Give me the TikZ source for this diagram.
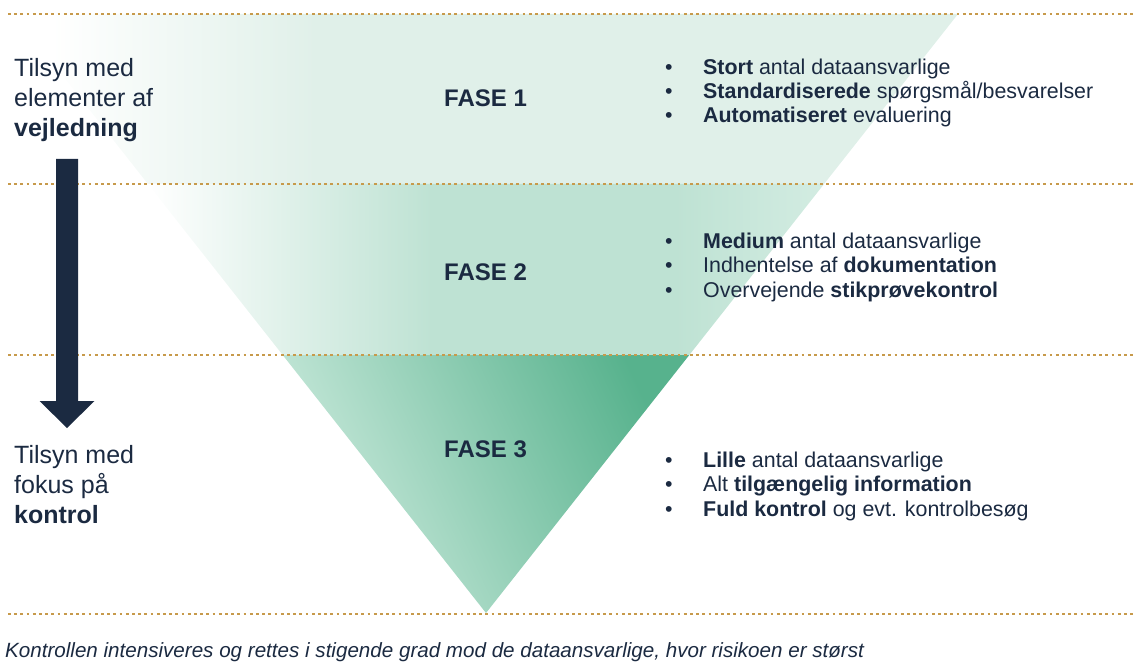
\documentclass[tikz,border=0pt]{standalone}
\usepackage{fontspec}
\setmainfont{Liberation Sans}
\usetikzlibrary{calc}
\definecolor{navy}{HTML}{1B2A41}
\definecolor{gold}{HTML}{C79A4B}
\definecolor{paleone}{HTML}{E0F0E9}
\definecolor{paletwo}{HTML}{BEE2D3}
\definecolor{paletwoend}{HTML}{D3ECE2}
\definecolor{deepthree}{HTML}{57B28D}
\definecolor{midthree}{HTML}{8FCEB4}
\definecolor{lightthree}{HTML}{CDEBDE}
% bbox of a band is mapped on 25bp..75bp
\pgfdeclarehorizontalshading{faseone}{100bp}{color(0bp)=(white); color(27bp)=(white);
  color(41bp)=(paleone); color(100bp)=(paleone)}
\pgfdeclarehorizontalshading{fasetwo}{100bp}{color(0bp)=(white); color(25bp)=(white);
  color(46bp)=(paletwo); color(64bp)=(paletwo); color(75bp)=(paletwoend); color(100bp)=(paletwoend)}
\tikzset{
  sep/.style={gold, line width=2.7pt, dash pattern=on 2.7pt off 3.5pt},
  lbl/.style={anchor=base west, inner sep=0pt, align=left, text=navy,
    font=\fontsize{25}{30}\selectfont},
  fase/.style={anchor=base west, inner sep=0pt, text=navy,
    font=\fontsize{24}{28}\selectfont\bfseries},
  bullets/.style={anchor=base west, inner sep=0pt, align=left, text=navy,
    font=\fontsize{21.4}{24.4}\selectfont},
}
\newcommand{\pt}[1]{\makebox[38pt][l]{\textbullet}#1}
\begin{document}
\begin{tikzpicture}[x=1pt,y=-1pt]
  \useasboundingbox (0,0) rectangle (1133,666);
  % funnel
  \coordinate (tl) at (14,14);
  \coordinate (tr) at (958,14);
  \coordinate (apex) at (486,613);
  \coordinate (l1) at ($(tl)!0.2838!(apex)$);
  \coordinate (r1) at ($(tr)!0.2838!(apex)$);
  \coordinate (l2) at ($(tl)!0.5693!(apex)$);
  \coordinate (r2) at ($(tr)!0.5693!(apex)$);
  \shade[shading=faseone] (tl) -- (tr) -- (r1) -- (l1) -- cycle;
  \shade[shading=fasetwo] (l1) -- (r1) -- (r2) -- (l2) -- cycle;
  \shade[top color=deepthree, middle color=midthree, bottom color=lightthree,
    shading angle=-65] (l2) -- (r2) -- (apex) -- cycle;
  % separators
  \foreach \y in {14,184,355,614}
    \draw[sep] (8,\y) -- (1133,\y);
  % arrow
  \coordinate (arrtop) at (67,159);
  \coordinate (arrtip) at (67,428);
  \fill[navy] ($(arrtop)+(-11,0)$) -- ($(arrtop)+(11,0)$) -- ($(arrtip)+(11,-27)$)
    -- ($(arrtip)+(27.5,-27)$) -- (arrtip) -- ($(arrtip)+(-27.5,-27)$)
    -- ($(arrtip)+(-11,-27)$) -- cycle;
  % left labels (base = last line)
  \node[lbl] (guide) at (14,137) {Tilsyn med\\elementer af\\\textbf{vejledning}};
  \node[lbl] (control) at (14,523) {Tilsyn med\\fokus på\\\textbf{kontrol}};
  % phases
  \node[fase] (f1) at (444,107) {FASE 1};
  \node[fase] (f2) at (444,280) {FASE 2};
  \node[fase] (f3) at (444,457) {FASE 3};
  \node[bullets] (b1) at (665,123) {\pt{\textbf{Stort} antal dataansvarlige}\\
    \pt{\textbf{Standardiserede} spørgsmål/besvarelser}\\
    \pt{\textbf{Automatiseret} evaluering}};
  \node[bullets] (b2) at (665,297) {\pt{\textbf{Medium} antal dataansvarlige}\\
    \pt{Indhentelse af \textbf{dokumentation}}\\
    \pt{Overvejende \textbf{stikprøvekontrol}}};
  \node[bullets] (b3) at (665,516) {\pt{\textbf{Lille} antal dataansvarlige}\\
    \pt{Alt \textbf{tilgængelig information}}\\
    \pt{\textbf{Fuld kontrol} og evt. kontrolbesøg}};
  % footer
  \node[anchor=base west, inner sep=0pt, text=navy, font=\fontsize{20.6}{24}\selectfont\itshape]
    (note) at (5,657) {Kontrollen intensiveres og rettes i stigende grad mod de dataansvarlige, hvor risikoen er størst};
\end{tikzpicture}
\end{document}
